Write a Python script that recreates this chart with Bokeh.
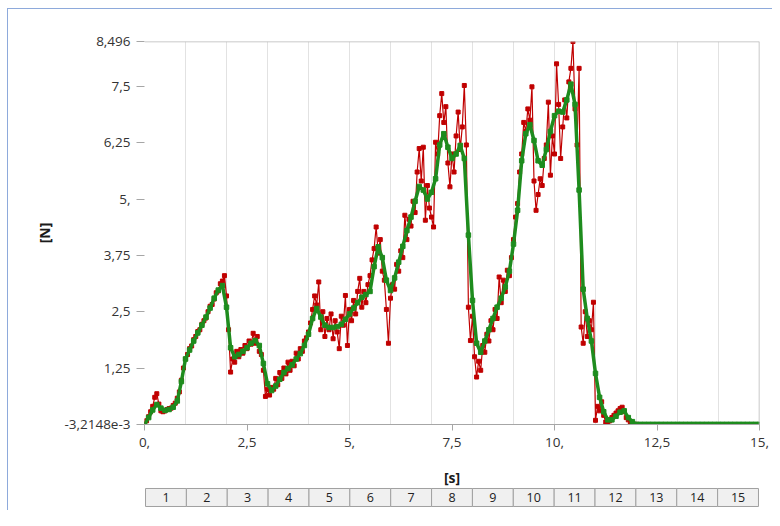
import numpy as np
from bokeh.plotting import figure
from bokeh.layouts import column
from bokeh.models import Range1d, FixedTicker, Span
from bokeh.embed import file_html
from bokeh.resources import INLINE
from bokeh.core.properties import value

# ---------------- data ----------------
# raw force [N], sampled every 0.05 s from 0 s
red_step = 0.05
red_values = [
    0.00, 0.08, 0.17, 0.28, 0.40, 0.60, 0.68, 0.45, 0.30, 0.28,
    0.30, 0.33, 0.35, 0.36, 0.42, 0.47, 0.58, 0.72, 0.98, 1.25,
    1.45, 1.55, 1.68, 1.74, 1.88, 1.95, 2.06, 2.10, 2.22, 2.30,
    2.36, 2.50, 2.62, 2.66, 2.78, 2.92, 2.96, 3.12, 3.18, 3.30,
    2.85, 2.10, 1.16, 1.45, 1.38, 1.62, 1.50, 1.66, 1.58, 1.75,
    1.68, 1.85, 1.78, 2.02, 1.80, 1.95, 1.62, 1.55, 1.20, 0.62,
    0.78, 0.65, 0.82, 0.78, 1.02, 0.88, 1.15, 1.02, 1.25, 1.12,
    1.38, 1.20, 1.40, 1.30, 1.58, 1.45, 1.68, 1.62, 1.85, 1.92,
    2.05, 2.25, 2.55, 2.85, 2.65, 3.16, 2.10, 2.50, 1.95, 2.35,
    2.10, 2.45, 1.90, 2.30, 2.05, 1.68, 2.40, 2.20, 2.86, 1.75,
    2.55, 2.30, 2.75, 2.45, 2.95, 3.24, 2.60, 2.95, 2.70, 3.10,
    3.30, 3.65, 3.90, 4.38, 3.80, 4.10, 3.40, 3.20, 2.55, 1.80,
    2.80, 3.10, 3.00, 3.55, 3.40, 3.85, 3.70, 4.64, 4.10, 4.55,
    4.40, 4.95, 4.70, 5.60, 6.12, 5.40, 6.15, 4.53, 5.30, 4.80,
    4.60, 4.38, 6.26, 6.00, 6.85, 7.34, 6.70, 7.05, 5.80, 5.27,
    6.00, 5.60, 6.40, 6.93, 6.10, 6.60, 7.52, 6.20, 2.60, 1.86,
    2.40, 1.50, 1.05, 1.40, 1.20, 1.75, 1.60, 2.00, 1.85, 2.30,
    2.10, 2.55, 2.35, 3.27, 2.70, 3.20, 2.95, 3.42, 3.30, 3.70,
    4.10, 4.60, 4.90, 5.60, 6.00, 6.70, 6.50, 7.00, 6.75, 7.49,
    5.40, 4.75, 5.10, 5.45, 5.30, 5.90, 6.20, 7.15, 5.53, 6.40,
    6.00, 8.00, 7.10, 5.90, 6.60, 7.20, 6.80, 7.60, 7.90, 8.496,
    7.00, 6.20, 7.90, 2.16, 1.80, 2.50, 1.95, 2.30, 2.10, 2.71,
    0.09, 0.40, 0.30, 0.50, 0.20, 0.05, 0.00, 0.08, 0.15, 0.20,
    0.25, 0.30, 0.35, 0.38, 0.28, 0.15, 0.10, 0.05, 0.02, 0.00,
    0.00,
]

# smoothed force [N], sampled every 0.1 s from 0 s
green_step = 0.1
green_values = [
    0.00, 0.15, 0.32, 0.44, 0.36, 0.31, 0.33, 0.38, 0.52, 0.95,
    1.45, 1.65, 1.85, 2.03, 2.20, 2.38, 2.58, 2.80, 2.98, 3.08,
    2.60, 1.70, 1.50, 1.55, 1.62, 1.70, 1.80, 1.86, 1.75, 1.35,
    0.90, 0.75, 0.85, 1.00, 1.15, 1.24, 1.32, 1.45, 1.57, 1.75,
    2.00, 2.35, 2.57, 2.38, 2.20, 2.15, 2.15, 2.17, 2.22, 2.33,
    2.45, 2.58, 2.70, 2.82, 2.88, 2.95, 3.50, 3.94, 3.70, 3.20,
    2.97, 3.25, 3.60, 3.95, 4.30, 4.60, 4.95, 5.28, 5.20, 5.00,
    5.15, 5.45, 6.20, 6.45, 6.15, 5.90, 6.00, 6.19, 5.90, 4.20,
    2.75, 1.80, 1.60, 1.85, 2.10, 2.35, 2.60, 2.80, 3.05, 3.40,
    4.00, 4.75, 5.85, 6.45, 6.65, 6.30, 5.85, 5.75, 6.10, 6.50,
    6.85, 6.95, 6.93, 7.20, 7.55, 7.10, 5.20, 3.00, 2.35, 1.85,
    1.13, 0.60, 0.28, 0.10, 0.10, 0.18, 0.27, 0.30, 0.15, 0.06,
    0.00, 0.00, 0.00, 0.00, 0.00, 0.00, 0.00, 0.00, 0.00, 0.00,
    0.00, 0.00, 0.00, 0.00, 0.00, 0.00, 0.00, 0.00, 0.00, 0.00,
    0.00, 0.00, 0.00, 0.00, 0.00, 0.00, 0.00, 0.00, 0.00, 0.00,
    0.00,
]

red_t = [round(i * red_step, 3) for i in range(len(red_values))]
green_t = [round(i * green_step, 3) for i in range(len(green_values))]

y_min = -3.2148e-3
y_max = 8.496
y_ticks = [y_min, 1.25, 2.5, 3.75, 5.0, 6.25, 7.5, y_max]
y_tick_labels = ["-3,2148e-3", "1,25", "2,5", "3,75", "5,", "6,25", "7,5", "8,496"]
x_ticks = [0, 2.5, 5, 7.5, 10, 12.5, 15]
x_tick_labels = ["0,", "2,5", "5,", "7,5", "10,", "12,5", "15,"]
x_title = "[s]"
y_title = "[N]"
steps = list(range(1, 16))
step_labels = [str(s) for s in steps]

# ---------------- styles ----------------
FONT = "Open Sans"
RED = "#C00000"
GREEN = "#1E8C1E"
AX_GREY = "#A6A6A6"

p = figure(width=764, height=455,
           x_range=Range1d(0, 15), y_range=Range1d(y_min, y_max),
           output_backend="svg", toolbar_location=None,
           min_border_left=136, min_border_right=13,
           min_border_top=32, min_border_bottom=40)
p.outline_line_color = None
p.background_fill_color = "white"
p.border_fill_color = "white"

p.xaxis.ticker = FixedTicker(ticks=x_ticks)
p.xaxis.major_label_overrides = dict(zip(x_ticks, x_tick_labels))
p.yaxis.ticker = FixedTicker(ticks=y_ticks)
p.yaxis.major_label_overrides = dict(zip(y_ticks, y_tick_labels))

for ax in (p.xaxis[0], p.yaxis[0]):
    ax.major_tick_line_color = AX_GREY
    ax.major_tick_in = 0
    ax.minor_tick_line_color = None
    ax.major_label_text_font = FONT
    ax.major_label_text_font_size = "13.5px"
    ax.major_label_text_color = "#333333"
    ax.axis_label_text_font = FONT
    ax.axis_label_text_font_size = "14px"
    ax.axis_label_text_font_style = "bold"
    ax.axis_label_text_color = "#1A1A1A"

p.xaxis.axis_line_color = AX_GREY
p.xaxis.major_tick_out = 6
p.xaxis.major_label_standoff = 7

p.yaxis.axis_line_color = None
p.yaxis.major_tick_out = 8
p.yaxis.major_label_standoff = 6
p.yaxis.axis_label = y_title
p.yaxis.axis_label_standoff = 7

p.xgrid.ticker = FixedTicker(ticks=list(range(0, 15)))
p.xgrid.grid_line_color = "#E2E2E2"
p.ygrid.grid_line_color = None

p.add_layout(Span(location=y_max, dimension="width", line_color="#B8B8B8", line_width=1.5))
p.add_layout(Span(location=15, dimension="height", line_color="#B8B8B8", line_width=1.5))

p.line(red_t, red_values, line_color=RED, line_width=1.2)
p.scatter(red_t, red_values, marker="square", size=4, fill_color=RED, line_color=RED)
p.line(green_t, green_values, line_color=GREEN, line_width=3.5)
p.scatter(green_t, green_values, marker="square", size=4.5, fill_color=GREEN, line_color=GREEN)

# x-axis title and step table below the chart
t = figure(width=764, height=46,
           x_range=Range1d(-0.025, 15.025), y_range=Range1d(-0.056, 2.278),
           x_axis_type=None, y_axis_type=None,
           output_backend="svg", toolbar_location=None,
           min_border_left=135, min_border_right=12,
           min_border_top=1, min_border_bottom=3)
t.outline_line_color = None
t.grid.visible = False
t.text(x=[7.5], y=[1.62], text=[x_title], text_align="center", text_baseline="middle",
       text_font=value(FONT), text_font_size="14px", text_font_style="bold",
       text_color="#1A1A1A")
t.quad(left=[s - 1 for s in steps], right=steps, bottom=0, top=1,
       fill_color="#F0F0F0", line_color="#A0A0A0", line_width=1)
t.text(x=[s - 0.5 for s in steps], y=[0.5] * len(steps), text=step_labels,
       text_align="center", text_baseline="middle",
       text_font=value(FONT), text_font_size="12.5px", text_color="#222222")

layout = column(p, t, spacing=0,
                styles={"margin-top": "8px", "margin-left": "7px",
                        "border-top": "1px solid #8EAADB",
                        "border-left": "1px solid #8EAADB"})

open("out.html", "w").write(file_html(layout, INLINE))
